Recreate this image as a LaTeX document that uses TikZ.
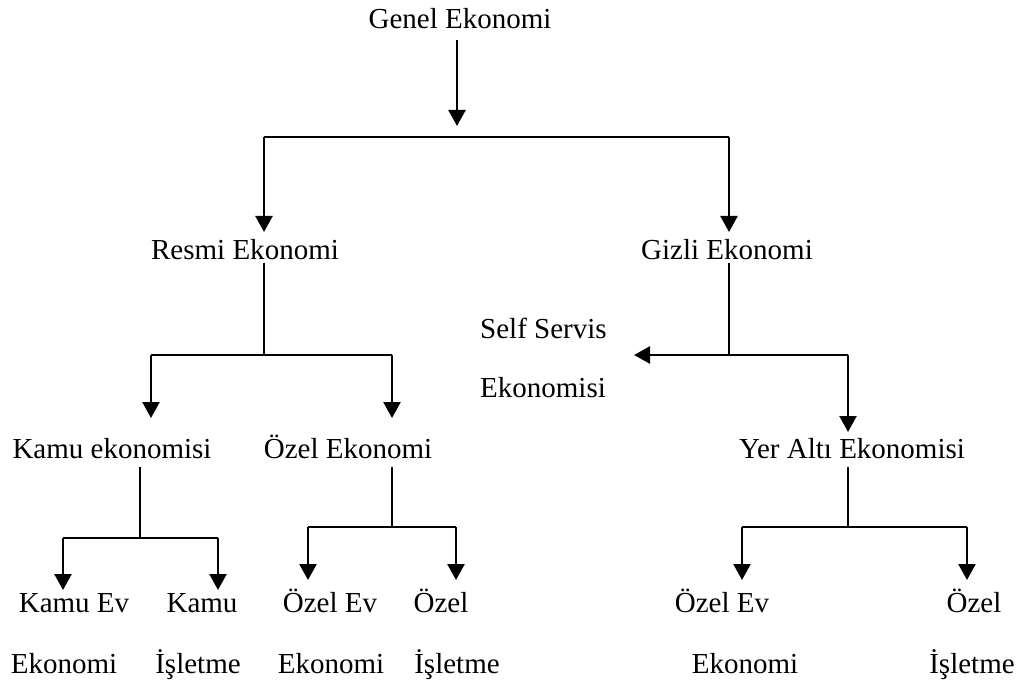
\documentclass[tikz,border=0pt]{standalone}
\usepackage{fontspec}
\setmainfont{Liberation Serif}
\usetikzlibrary{arrows.meta}
\begin{document}
\begin{tikzpicture}[x=1pt,y=-1pt,
  lbl/.style={inner sep=0pt,anchor=base,font=\fontsize{29}{34}\selectfont},
  lblw/.style={lbl,anchor=base west},
  ln/.style={line width=1.6pt},
  bar/.style={line width=2.5pt},
  arr/.style={line width=2.5pt,-{Triangle[length=16pt,width=17pt]}}]
\useasboundingbox (0,0) rectangle (1024,684);
% texts
\node[lbl] (genel) at (460,29) {Genel Ekonomi};
\node[lbl] (resmi) at (245,260) {Resmi Ekonomi};
\node[lbl] (gizli) at (727,260) {Gizli Ekonomi};
\node[lblw] (self1) at (480,338) {Self Servis};
\node[lblw] (self2) at (480,397) {Ekonomisi};
\node[lbl] (kamu) at (112,458) {Kamu ekonomisi};
\node[lbl] (ozel) at (348,458) {Özel Ekonomi};
\node[lbl] (yer) at (852,458) {Yer Altı Ekonomisi};
\node[lbl] (kev1) at (74,612) {Kamu Ev};
\node[lbl] (kev2) at (64,673) {Ekonomi};
\node[lbl] (kis1) at (202,612) {Kamu};
\node[lbl] (kis2) at (198,673) {İşletme};
\node[lbl] (oev1) at (330,612) {Özel Ev};
\node[lbl] (oev2) at (331,673) {Ekonomi};
\node[lbl] (ois1) at (441,612) {Özel};
\node[lbl] (ois2) at (457,673) {İşletme};
\node[lbl] (yev1) at (722,612) {Özel Ev};
\node[lbl] (yev2) at (745,673) {Ekonomi};
\node[lbl] (yis1) at (974,612) {Özel};
\node[lbl] (yis2) at (972,673) {İşletme};
% coordinates
\coordinate (g0) at (457,40);
\coordinate (g1) at (457,126);
\coordinate (h1l) at (264,137);
\coordinate (h1r) at (729,137);
\coordinate (rt) at (264,232);
\coordinate (gt) at (729,232);
\coordinate (r0) at (264,263);
\coordinate (r1) at (264,355);
\coordinate (r1l) at (151,355);
\coordinate (r1r) at (392,355);
\coordinate (kt) at (151,418);
\coordinate (ot) at (392,418);
\coordinate (z0) at (729,263);
\coordinate (z1) at (729,355);
\coordinate (z1l) at (634,355);
\coordinate (z1r) at (848,355);
\coordinate (yt) at (848,432);
\coordinate (k0) at (140,467);
\coordinate (k1) at (140,538);
\coordinate (k1l) at (63,538);
\coordinate (k1r) at (218,538);
\coordinate (kevt) at (63,590);
\coordinate (kist) at (218,590);
\coordinate (o0) at (392,467);
\coordinate (o1) at (392,527);
\coordinate (o1l) at (308,527);
\coordinate (o1r) at (456,527);
\coordinate (oevt) at (308,580);
\coordinate (oist) at (456,580);
\coordinate (y0) at (848,467);
\coordinate (y1) at (848,527);
\coordinate (y1l) at (742,527);
\coordinate (y1r) at (967,527);
\coordinate (yevt) at (742,580);
\coordinate (yist) at (967,580);
% connectors
\draw[arr] (g0) -- (g1);
\draw[bar] (h1l) -- (h1r);
\draw[arr] (h1l) -- (rt);
\draw[arr] (h1r) -- (gt);
\draw[ln] (r0) -- (r1);
\draw[bar] (r1l) -- (r1r);
\draw[arr] (r1l) -- (kt);
\draw[arr] (r1r) -- (ot);
\draw[ln] (z0) -- (z1);
\draw[arr] (z1) -- (z1l);
\draw[bar] (z1) -- (z1r);
\draw[arr] (z1r) -- (yt);
\draw[ln] (k0) -- (k1);
\draw[bar] (k1l) -- (k1r);
\draw[arr] (k1l) -- (kevt);
\draw[arr] (k1r) -- (kist);
\draw[ln] (o0) -- (o1);
\draw[bar] (o1l) -- (o1r);
\draw[arr] (o1l) -- (oevt);
\draw[arr] (o1r) -- (oist);
\draw[ln] (y0) -- (y1);
\draw[bar] (y1l) -- (y1r);
\draw[arr] (y1l) -- (yevt);
\draw[arr] (y1r) -- (yist);
\end{tikzpicture}
\end{document}
